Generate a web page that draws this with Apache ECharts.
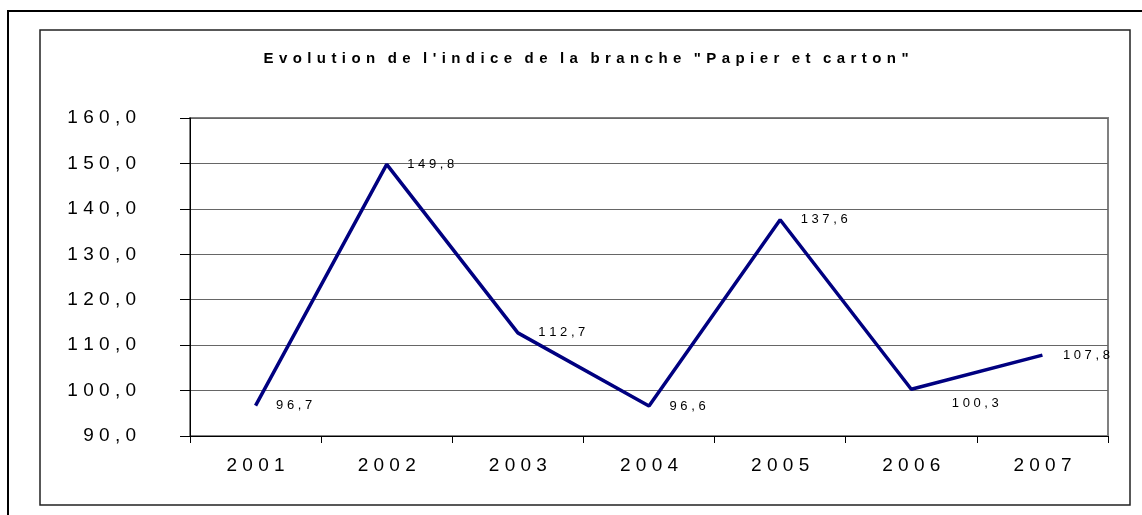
<!DOCTYPE html>
<html>
<head>
<meta charset="utf-8">
<script src="https://cdn.jsdelivr.net/npm/echarts@6/dist/echarts.min.js"></script>
<style>
  html, body { margin: 0; padding: 0; background: #fff; }
  #chart { width: 1142px; height: 515px; }
</style>
</head>
<body>
<div id="chart"></div>
<script>
// données
var years = ['2001', '2002', '2003', '2004', '2005', '2006', '2007'];
var indice = [96.7, 149.8, 112.7, 96.6, 137.6, 100.3, 107.8];
var titre = 'Evolution de l\'indice de la branche "Papier et carton"';

// espacement des lettres façon export Excel
function spaced(s, gap) {
    gap = gap || ' ';
    return s.split(' ').map(function (w) { return w.split('').join(gap); }).join('   ');
}
function fr(v) {
    return spaced(v.toFixed(1).replace('.', ','));
}

var chart = echarts.init(document.getElementById('chart'));
var font = '"Liberation Sans", Arial, sans-serif';

var pts = indice.map(function (v, i) {
    var d = { value: v };
    if (i == 5) {
        // étiquette 100,3 décalée vers le bas
        d.label = { offset: [20, 14] };
    }
    return d;
});

chart.setOption({
    animation: false,
    textStyle: { fontFamily: font },
    title: {
        text: spaced(titre, ' \u200A'),
        left: 581,
        textAlign: 'center',
        top: 46,
        textStyle: { fontSize: 15, fontWeight: 'bold', color: '#000', fontFamily: font }
    },
    graphic: [
        {
            type: 'rect',
            shape: { x: 8, y: 11, width: 1160, height: 540 },
            style: { fill: 'none', stroke: '#000', lineWidth: 2 },
            silent: true
        },
        {
            type: 'rect',
            shape: { x: 40, y: 30, width: 1090, height: 475 },
            style: { fill: 'none', stroke: '#222', lineWidth: 1.5 },
            silent: true
        }
    ],
    grid: {
        left: 190,
        top: 118,
        right: 34,
        bottom: 79,
        show: true,
        borderColor: '#808080',
        borderWidth: 2,
        containLabel: false
    },
    xAxis: {
        type: 'category',
        data: years,
        boundaryGap: true,
        axisLine: { lineStyle: { color: '#000', width: 1 } },
        axisTick: { show: true, length: 7, lineStyle: { color: '#000' } },
        axisLabel: {
            margin: 20,
            fontSize: 19,
            color: '#000',
            formatter: function (v) { return spaced(v); }
        }
    },
    yAxis: {
        type: 'value',
        min: 90,
        max: 160,
        interval: 10,
        axisLine: { show: true, lineStyle: { color: '#000', width: 1 } },
        axisTick: { show: true, length: 10, lineStyle: { color: '#000' } },
        splitLine: { lineStyle: { color: '#666', width: 1 } },
        axisLabel: {
            margin: 54,
            fontSize: 19,
            color: '#000',
            formatter: function (v) { return fr(v); }
        }
    },
    series: [
        {
            type: 'line',
            data: pts,
            symbol: 'circle',
            symbolSize: 1,
            itemStyle: { color: 'rgba(0,0,0,0)', borderWidth: 0 },
            lineStyle: { color: '#000080', width: 3.5 },
            label: {
                show: true,
                position: 'right',
                distance: 20,
                fontSize: 13,
                color: '#000',
                formatter: function (p) { return fr(p.value); }
            }
        }
    ]
});
</script>
</body>
</html>
